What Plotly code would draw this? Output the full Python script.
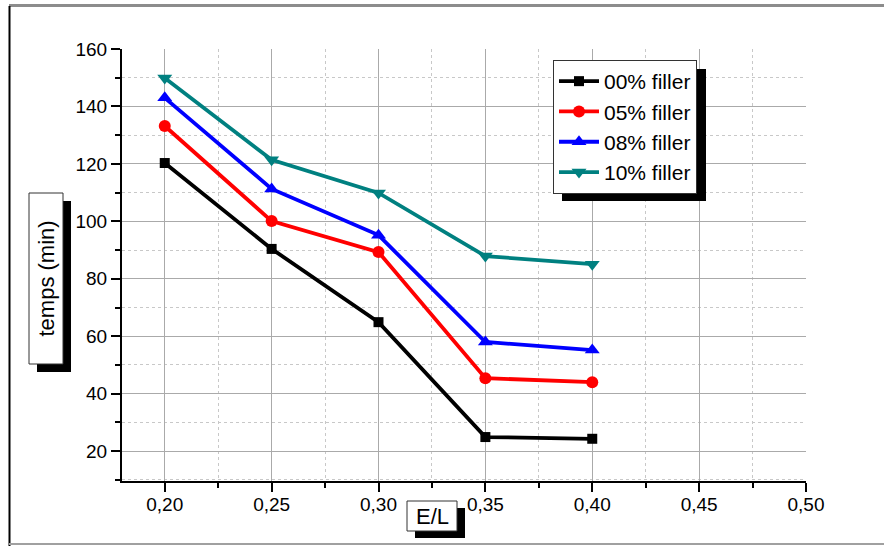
import plotly.graph_objects as go

el = [0.20, 0.25, 0.30, 0.35, 0.40]
filler_00 = [120.3, 90.4, 64.9, 24.9, 24.3]
filler_05 = [133.2, 100.1, 89.3, 45.4, 44.0]
filler_08 = [143.0, 111.3, 95.2, 58.0, 55.2]
filler_10 = [149.9, 121.4, 109.9, 87.9, 85.1]
series_names = ["00% filler", "05% filler", "08% filler", "10% filler"]
x_ticks = [0.20, 0.25, 0.30, 0.35, 0.40, 0.45, 0.50]
y_ticks = [20, 40, 60, 80, 100, 120, 140, 160]

W, H = 884, 546
L, R, T, B = 122, 806, 49, 481
FONT = "Arial, Liberation Sans, sans-serif"


def px(x):
    return (x - L) / (R - L)


def py(y):
    return (B - y) / (B - T)


fig = go.Figure()
styles = [
    ("black", "square", 10),
    ("#ff0000", "circle", 12),
    ("#0000ff", "triangle-up", 13),
    ("#008080", "triangle-down", 13),
]
for name, vals, (col, sym, sz) in zip(series_names, [filler_00, filler_05, filler_08, filler_10], styles):
    fig.add_trace(go.Scatter(
        x=el, y=vals, name=name, mode="lines+markers",
        line=dict(color=col, width=3.8),
        marker=dict(color=col, symbol=sym, size=sz),
    ))

axis_common = dict(
    showline=True, linecolor="black", linewidth=2,
    tickfont=dict(family=FONT, size=19, color="black"),
    ticklen=9, tickwidth=2, tickcolor="black",
    gridcolor="#aaaaaa", gridwidth=1, zeroline=False,
)
fig.update_xaxes(
    range=[0.18, 0.50], tickvals=x_ticks,
    tickformat=".2f", ticks="outside", ticklabelstandoff=-4,
    minor=dict(dtick=0.025, ticks="outside", ticklen=5, tickwidth=2, tickcolor="black",
               showgrid=True, gridcolor="#c8c8c8", griddash="dot", gridwidth=1),
    **axis_common,
)
fig.update_yaxes(
    range=[9.6, 160], tickvals=y_ticks, ticks="outside",
    minor=dict(dtick=10, ticks="outside", ticklen=5, tickwidth=2, tickcolor="black",
               showgrid=True, gridcolor="#c8c8c8", griddash="dot", gridwidth=1),
    **axis_common,
)
fig.update_layout(
    xaxis2=dict(overlaying="x", side="top", range=[0.18, 0.50], anchor="y",
                tickvals=x_ticks, showticklabels=False,
                ticks="inside", ticklen=9, tickwidth=2, tickcolor="black",
                showline=True, linecolor="black", linewidth=2, showgrid=False, zeroline=False,
                minor=dict(dtick=0.025, ticks="inside", ticklen=5, tickwidth=2, tickcolor="black")),
    yaxis2=dict(overlaying="y", side="right", range=[9.6, 160], anchor="x",
                tickvals=y_ticks, showticklabels=False,
                ticks="inside", ticklen=9, tickwidth=2, tickcolor="black",
                showline=True, linecolor="black", linewidth=2, showgrid=False, zeroline=False,
                minor=dict(dtick=10, ticks="inside", ticklen=5, tickwidth=2, tickcolor="black")),
)

# legend box geometry (px) -- plotly box at font 21 is ~144 x 132
LEG_L, LEG_T, LEG_W, LEG_H = 553, 60, 144, 132

shapes = []
# outer frame
shapes.append(dict(type="line", xref="paper", yref="paper", x0=px(9), x1=px(884), y0=py(5.5), y1=py(5.5),
                   line=dict(color="#8c8c8c", width=3)))
shapes.append(dict(type="line", xref="paper", yref="paper", x0=px(9.5), x1=px(9.5), y0=py(6), y1=py(546),
                   line=dict(color="black", width=2)))
shapes.append(dict(type="line", xref="paper", yref="paper", x0=px(9), x1=px(884), y0=py(544), y1=py(544),
                   line=dict(color="#a0a0a0", width=2)))
# legend shadow
shapes.append(dict(type="rect", xref="paper", yref="paper",
                   x0=px(LEG_L + 9), x1=px(LEG_L + LEG_W + 9),
                   y0=py(LEG_T + 9), y1=py(LEG_T + LEG_H + 9),
                   fillcolor="black", line=dict(width=0)))
# y title box with shadow
shapes.append(dict(type="rect", xref="paper", yref="paper", x0=px(37), x1=px(71), y0=py(201), y1=py(372),
                   fillcolor="black", line=dict(width=0)))
shapes.append(dict(type="rect", xref="paper", yref="paper", x0=px(29), x1=px(63), y0=py(193), y1=py(364),
                   fillcolor="white", line=dict(color="#333333", width=1)))
# x title box with shadow
shapes.append(dict(type="rect", xref="paper", yref="paper", x0=px(415), x1=px(465), y0=py(508), y1=py(538),
                   fillcolor="black", line=dict(width=0)))
shapes.append(dict(type="rect", xref="paper", yref="paper", x0=px(407), x1=px(457), y0=py(501), y1=py(531),
                   fillcolor="white", line=dict(color="#333333", width=1)))

annotations = [
    dict(text="temps (min)", xref="paper", yref="paper", x=px(46), y=py(278.5), textangle=-90,
         showarrow=False, font=dict(family=FONT, size=22, color="black"), xanchor="center", yanchor="middle"),
    dict(text="E/L", xref="paper", yref="paper", x=px(432), y=py(516), showarrow=False,
         font=dict(family=FONT, size=22, color="black"), xanchor="center", yanchor="middle"),
]

fig.update_layout(
    width=W, height=H,
    margin=dict(l=L, r=W - R, t=T, b=H - B),
    paper_bgcolor="white", plot_bgcolor="white",
    separators=",.",
    showlegend=True,
    legend=dict(x=px(LEG_L), y=py(LEG_T), xanchor="left", yanchor="top",
                bgcolor="white", bordercolor="#333333", borderwidth=1,
                font=dict(family=FONT, size=21, color="black"), tracegroupgap=0,
                itemwidth=40),
    shapes=shapes, annotations=annotations,
)

fig.write_html("out.html", config={"displayModeBar": False},
               post_script="document.body.style.margin='0';document.body.style.overflow='hidden';")
